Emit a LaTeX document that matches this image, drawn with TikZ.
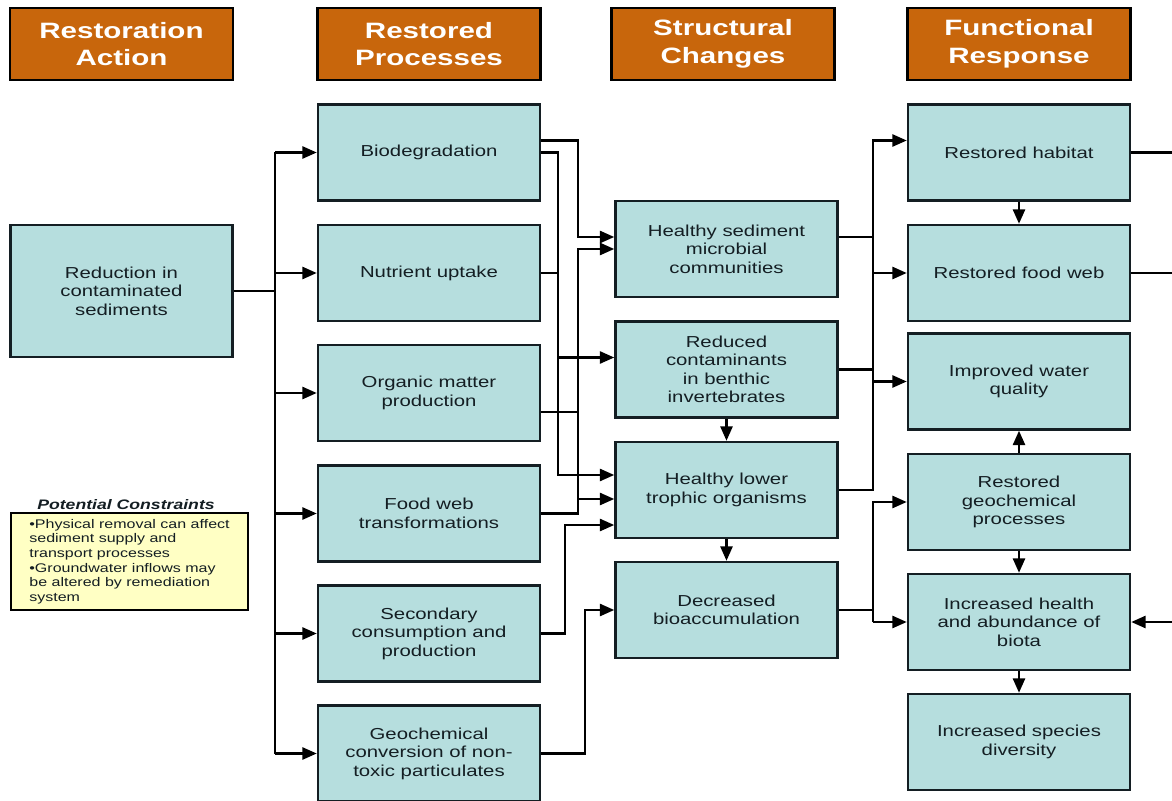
\documentclass[tikz,border=0pt]{standalone}
\usepackage{fontspec}
\setmainfont{Liberation Sans}[FakeStretch=1.28]
\newfontfamily\headfont{Liberation Sans}[FakeStretch=1.33]
\usetikzlibrary{arrows.meta}
\definecolor{headorange}{RGB}{200,102,12}
\definecolor{boxteal}{RGB}{182,222,222}
\definecolor{noteyellow}{RGB}{255,255,196}
\definecolor{inkdark}{RGB}{20,30,35}
\tikzset{
	head/.style={draw=black, line width=1.9pt, fill=headorange, text=white, minimum width=5.575cm, minimum height=1.8cm, inner sep=0pt, align=center, font=\headfont\bfseries\fontsize{15.8}{19.6}\selectfont},
	box/.style={draw=inkdark, line width=1.7pt, fill=boxteal, text=inkdark, minimum width=5.55cm, minimum height=2.4cm, inner sep=0pt, align=center, font=\fontsize{11.3}{13.1}\selectfont},
	note/.style={draw=black, line width=1.5pt, fill=noteyellow, text=inkdark, minimum width=5.925cm, minimum height=2.425cm, inner sep=0pt, align=left, font=\fontsize{8.9}{10.4}\selectfont},
	link/.style={draw=black, line width=1.8pt},
	arr/.style={link, -{Triangle[length=0.36cm, width=0.3cm]}}
}
\begin{document}
\begin{tikzpicture}[x=0.025cm, y=-0.025cm]
	\path[use as bounding box, fill=white] (0,0) rectangle (1172,801);
	\node[head] (hAct) at (121.5,44) {Restoration\\Action};
	\node[head] (hProc) at (429,44) {Restored\\Processes};
	\node[head] (hStruct) at (723,44) {Structural\\Changes};
	\node[head] (hFunc) at (1019,44) {Functional\\Response};

	\node[box, minimum height=3.3cm] (red) at (121.5,291) {Reduction in\\contaminated\\sediments};

	\node[box] (bio) at (429,152.5) {Biodegradation};
	\node[box] (nut) at (429,273) {Nutrient uptake};
	\node[box] (org) at (429,393) {Organic matter\\production};
	\node[box] (fw) at (429,513.5) {Food web\\transformations};
	\node[box] (sec) at (429,633.5) {Secondary\\consumption and\\production};
	\node[box] (geo) at (429,753.5) {Geochemical\\conversion of non-\\toxic particulates};

	\node[box] (hsed) at (726.5,249) {Healthy sediment\\microbial\\communities};
	\node[box] (redc) at (726.5,369.5) {Reduced\\contaminants\\in benthic\\invertebrates};
	\node[box] (hlow) at (726.5,490) {Healthy lower\\trophic organisms};
	\node[box] (decr) at (726.5,610) {Decreased\\bioaccumulation};

	\node[box] (hab) at (1019,152.5) {Restored habitat};
	\node[box] (fweb) at (1019,273) {Restored food web};
	\node[box] (water) at (1019,381.5) {Improved water\\quality};
	\node[box] (geoch) at (1019,502) {Restored\\geochemical\\processes};
	\node[box] (incr) at (1019,622) {Increased health\\and abundance of\\biota};
	\node[box] (div) at (1019,742) {Increased species\\diversity};

	\node[text=inkdark, font=\bfseries\itshape\fontsize{9.8}{11}\selectfont] (consT) at (126,505) {Potential Constraints};
	\node[note] (cons) at (129.5,561.5) {\textbullet Physical removal can affect\\sediment supply and\\transport processes\\\textbullet Groundwater inflows may\\be altered by remediation\\system};

	\coordinate (tA) at (275,0);
	\coordinate (tB) at (558,0);
	\coordinate (tC) at (578,0);
	\coordinate (tD) at (565,0);
	\coordinate (tE) at (585,0);
	\coordinate (tF) at (873,0);
	\coordinate (rim) at (1172,0);
	\coordinate (bioHi) at ([yshift=0.3cm]bio.east);
	\coordinate (orgLo) at ([yshift=-0.475cm]org.east);
	\coordinate (hsedHi) at ([yshift=0.3cm]hsed.west);
	\coordinate (hsedOut) at ([yshift=0.3cm]hsed.east);
	\coordinate (redcHi) at ([yshift=0.3cm]redc.west);
	\coordinate (hlowHi) at ([yshift=0.375cm]hlow.west);
	\coordinate (hlowLo) at ([yshift=-0.225cm]hlow.west);
	\coordinate (hlowBot) at ([yshift=-0.875cm]hlow.west);
	\coordinate (habHi) at ([yshift=0.3cm]hab.west);

	\draw[link] (red.east) -- (tA |- red.east);
	\draw[link] (tA |- bio.west) -- (tA |- geo.west);
	\foreach \p in {bio,nut,org,fw,sec,geo}
		\draw[arr] (tA |- \p.west) -- (\p.west);

	\draw[arr] (bioHi) -| (tC |- hsedHi) -- (hsedHi);
	\draw[arr] (bio.east) -| (tB |- hlowHi) -- (hlowHi);
	\draw[arr] (tB |- redcHi) -- (redcHi);
	\draw[link] (nut.east) -- (tB |- nut.east);
	\draw[arr] (fw.east) -| (tC |- hsed.west) -- (hsed.west);
	\draw[link] (orgLo) -- (tC |- orgLo);
	\draw[arr] (tC |- hlowLo) -- (hlowLo);
	\draw[arr] (sec.east) -| (tD |- hlowBot) -- (hlowBot);
	\draw[arr] (geo.east) -| (tE |- decr.west) -- (decr.west);

	\draw[link] (hsedOut) -- (tF |- hsedOut);
	\draw[link] (redc.east) -- (tF |- redc.east);
	\draw[arr] (hlow.east) -| (tF |- habHi) -- (habHi);
	\draw[arr] (tF |- fweb.west) -- (fweb.west);
	\draw[arr] (tF |- water.west) -- (water.west);
	\draw[link] (decr.east) -- (tF |- decr.east);
	\draw[arr] (tF |- incr.west) |- (geoch.west);
	\draw[arr] (tF |- incr.west) -- (incr.west);

	\draw[arr] (redc.south) -- (hlow.north);
	\draw[arr] (hlow.south) -- (decr.north);
	\draw[arr] (hab.south) -- (fweb.north);
	\draw[arr] (geoch.north) -- (water.south);
	\draw[arr] (geoch.south) -- (incr.north);
	\draw[arr] (incr.south) -- (div.north);

	\draw[link] (hab.east) -- (rim |- hab.east);
	\draw[link] (fweb.east) -- (rim |- fweb.east);
	\draw[arr] (rim |- incr.east) -- (incr.east);
\end{tikzpicture}
\end{document}
